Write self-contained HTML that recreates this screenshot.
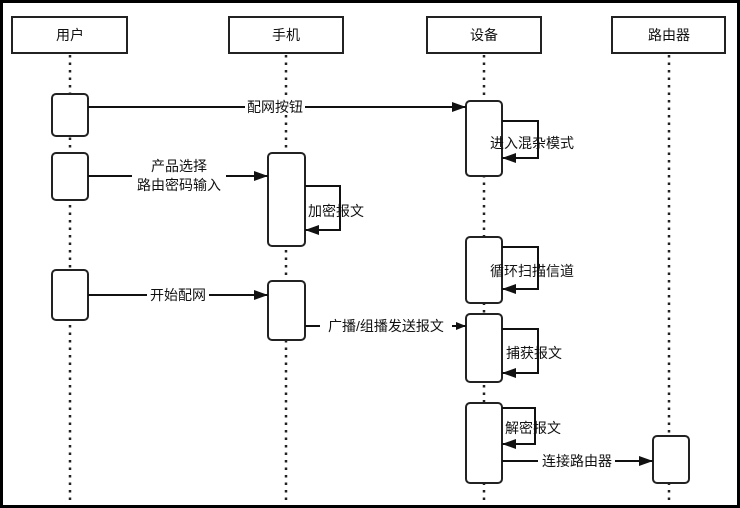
<!DOCTYPE html>
<html><head><meta charset="utf-8"><style>
html,body{margin:0;padding:0;background:#000;}
svg{display:block;}
text{font-family:"Liberation Sans","Noto Sans CJK SC",sans-serif;font-size:14px;fill:#111;}
</style></head><body>
<svg width="740" height="508" viewBox="0 0 740 508" xmlns="http://www.w3.org/2000/svg">
<defs><marker id="a" viewBox="0 0 10 10" refX="10" refY="5" markerWidth="10" markerHeight="10" markerUnits="userSpaceOnUse" orient="auto"><path d="M0,1 L10,5 L0,9 z" fill="#111"/></marker>
<marker id="b" viewBox="0 0 14 10" refX="14" refY="5" markerWidth="14" markerHeight="10" markerUnits="userSpaceOnUse" orient="auto"><path d="M0,0 L14,5 L0,10 z" fill="#111"/></marker></defs>
<rect x="3" y="3" width="734" height="502" fill="#fff"/>
<g stroke="#222" stroke-width="2.5" stroke-dasharray="2.5 5" fill="none">
<line x1="70" y1="55" x2="70" y2="500"/>
<line x1="286" y1="55" x2="286" y2="500"/>
<line x1="484" y1="55" x2="484" y2="500"/>
<line x1="669" y1="55" x2="669" y2="500"/>
</g>
<g fill="#fff" stroke="#222" stroke-width="2">
<rect x="12" y="17" width="115" height="36"/>
<rect x="229" y="17" width="114" height="36"/>
<rect x="427" y="17" width="114" height="36"/>
<rect x="612" y="17" width="113" height="36"/>
<rect x="52" y="94" width="36" height="42" rx="4"/>
<rect x="52" y="153" width="36" height="47" rx="4"/>
<rect x="52" y="270" width="36" height="50" rx="4"/>
<rect x="268" y="153" width="37" height="93" rx="4"/>
<rect x="268" y="281" width="37" height="59" rx="4"/>
<rect x="466" y="101" width="36" height="75" rx="4"/>
<rect x="466" y="237" width="36" height="66" rx="4"/>
<rect x="466" y="314" width="36" height="68" rx="4"/>
<rect x="466" y="403" width="36" height="80" rx="4"/>
<rect x="653" y="436" width="36" height="47" rx="4"/>
</g>
<g text-anchor="middle"><text x="70" y="40">用户</text><text x="286" y="40">手机</text><text x="484" y="40">设备</text><text x="669" y="40">路由器</text></g>
<g stroke="#111" stroke-width="2" fill="none">
<line x1="88" y1="107" x2="466" y2="107" marker-end="url(#b)"/>
<line x1="88" y1="176" x2="268" y2="176" marker-end="url(#b)"/>
<line x1="88" y1="295" x2="268" y2="295" marker-end="url(#b)"/>
<line x1="305" y1="326" x2="466" y2="326" marker-end="url(#a)"/>
<line x1="502" y1="461" x2="653" y2="461" marker-end="url(#b)"/>
<polyline points="305,186 340,186 340,230 305,230" marker-end="url(#b)"/>
<polyline points="502,121 538,121 538,158 502,158" marker-end="url(#b)"/>
<polyline points="502,247 538,247 538,289 502,289" marker-end="url(#b)"/>
<polyline points="502,329 538,329 538,373 502,373" marker-end="url(#b)"/>
<polyline points="502,408 535,408 535,444 502,444" marker-end="url(#b)"/>
</g>
<g>
<rect x="245" y="99" width="60" height="16" fill="#fff"/><text x="275" y="112" text-anchor="middle">配网按钮</text>
<rect x="132" y="160" width="94" height="34" fill="#fff"/><text x="179" y="171" text-anchor="middle">产品选择</text><text x="179" y="190" text-anchor="middle">路由密码输入</text>
<rect x="147" y="287" width="62" height="16" fill="#fff"/><text x="178" y="300" text-anchor="middle">开始配网</text>
<rect x="320" y="318" width="132" height="16" fill="#fff"/><text x="386" y="331" text-anchor="middle">广播/组播发送报文</text>
<rect x="538" y="453" width="77" height="16" fill="#fff"/><text x="577" y="466" text-anchor="middle">连接路由器</text>
<text x="308" y="216">加密报文</text>
<text x="490" y="148">进入混杂模式</text>
<text x="490" y="276">循环扫描信道</text>
<text x="506" y="358">捕获报文</text>
<text x="505" y="433">解密报文</text>
</g>
</svg>
</body></html>
